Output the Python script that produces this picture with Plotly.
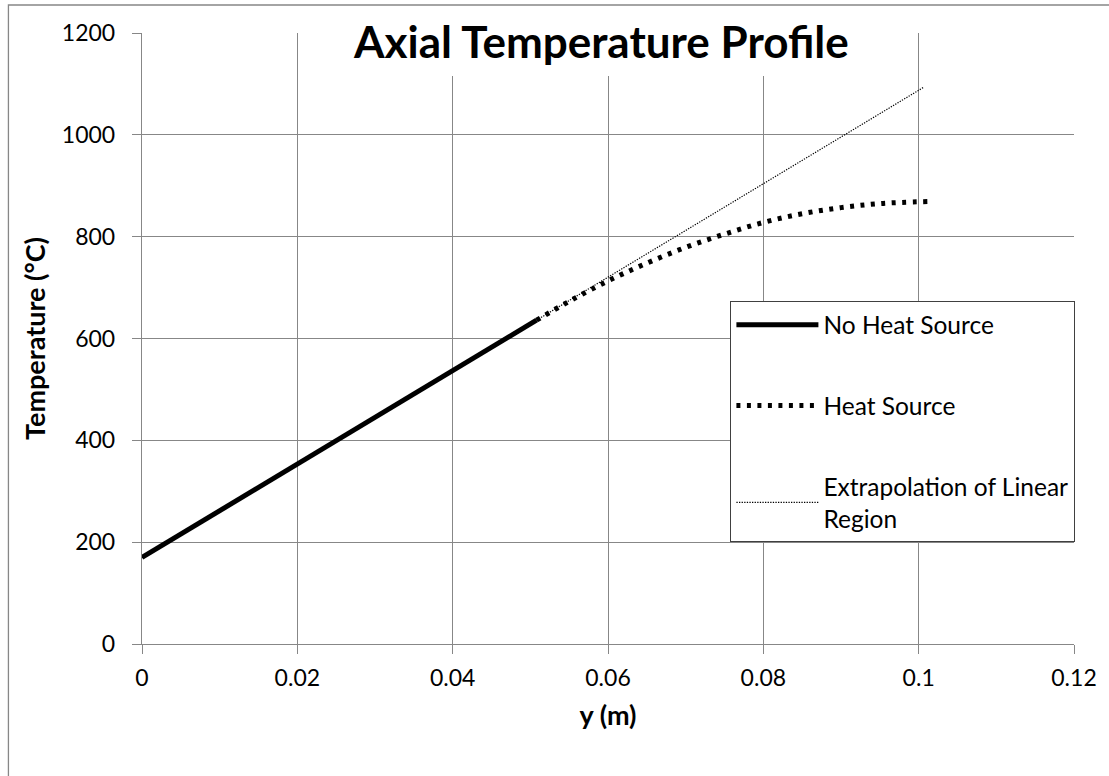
import plotly.graph_objects as go

# Data
y_no_heat = [0.0, 0.0508]
t_no_heat = [170, 636]

y_heat = [0.0508, 0.055, 0.06, 0.065, 0.07, 0.075, 0.08, 0.085, 0.09, 0.095, 0.1012]
t_heat = [636, 673, 713, 748, 779, 805, 828, 845, 857, 865, 869]

y_extrap = [0.0508, 0.1006]
t_extrap = [636, 1093]

x_ticks = [0, 0.02, 0.04, 0.06, 0.08, 0.1, 0.12]
x_tick_text = ["0", "0.02", "0.04", "0.06", "0.08", "0.1", "0.12"]
y_ticks = [0, 200, 400, 600, 800, 1000, 1200]

FONT = "Lato"
GRID = "#878787"

fig = go.Figure()
fig.add_trace(go.Scatter(
    x=y_no_heat, y=t_no_heat, mode="lines", name="No Heat Source",
    line=dict(color="black", width=5), legendgroup="a"))
fig.add_trace(go.Scatter(
    x=y_heat, y=t_heat, mode="lines", name="Heat Source",
    line=dict(color="black", width=5, dash="4px,6.5px", shape="spline"), legendgroup="b"))
fig.add_trace(go.Scatter(
    x=y_extrap, y=t_extrap, mode="lines", name="Extrapolation of Linear<br>Region",
    line=dict(color="black", width=1.2, dash="1.3px,1.3px"), legendgroup="c"))

L, R, T, B = 142, 32, 33, 132
W, H = 1109, 776
pw, ph = W - L - R, H - T - B

def px_x(p):
    return (p - L) / pw

def px_y(p):
    return (H - B - p) / ph

shapes = [
    # white box behind the title
    dict(type="rect", xref="paper", yref="paper", layer="above",
         x0=px_x(340), x1=px_x(863), y0=px_y(76), y1=px_y(8),
         fillcolor="white", line=dict(width=0)),
    # chart outer frame
    dict(type="rect", xref="paper", yref="paper", layer="above",
         x0=px_x(8), x1=px_x(1130), y0=px_y(800), y1=px_y(5),
         fillcolor="rgba(0,0,0,0)", line=dict(color=GRID, width=1.3)),
]

fig.update_layout(
    width=W, height=H,
    margin=dict(l=L, r=R, t=T, b=B),
    paper_bgcolor="white", plot_bgcolor="white",
    font=dict(family=FONT, size=23, color="black"),
    shapes=shapes,
    annotations=[dict(
        text="<b>Axial Temperature Profile</b>", xref="paper", yref="paper",
        x=px_x(602), y=px_y(41), xanchor="center", yanchor="middle",
        showarrow=False, font=dict(family=FONT, size=44, color="black"))],
    showlegend=True,
    legend=dict(
        x=px_x(732), y=px_y(301), xanchor="left", yanchor="top",
        bgcolor="white", bordercolor="#404040", borderwidth=1.3,
        font=dict(family=FONT, size=24.5, color="black"),
        itemwidth=82,
        traceorder="grouped", tracegroupgap=46),
    xaxis=dict(
        range=[0, 0.12], tickvals=x_ticks, ticktext=x_tick_text,
        showgrid=True, gridcolor=GRID, gridwidth=1.4,
        zeroline=False, showline=True, linecolor=GRID, linewidth=1.4,
        ticks="outside", ticklen=9, tickcolor=GRID, tickwidth=1.4,
        ticklabelstandoff=4,
        title=dict(text="<b>y (m)</b>", font=dict(family=FONT, size=27), standoff=16)),
    yaxis=dict(
        range=[0, 1200], tickvals=y_ticks,
        showgrid=True, gridcolor=GRID, gridwidth=1.4,
        zeroline=False, showline=True, linecolor=GRID, linewidth=1.4,
        ticks="outside", ticklen=9, tickcolor=GRID, tickwidth=1.4,
        ticklabelstandoff=12,
        title=dict(text="<b>Temperature (°C)</b>", font=dict(family=FONT, size=27), standoff=8)),
)

fig.write_html("out.html")
